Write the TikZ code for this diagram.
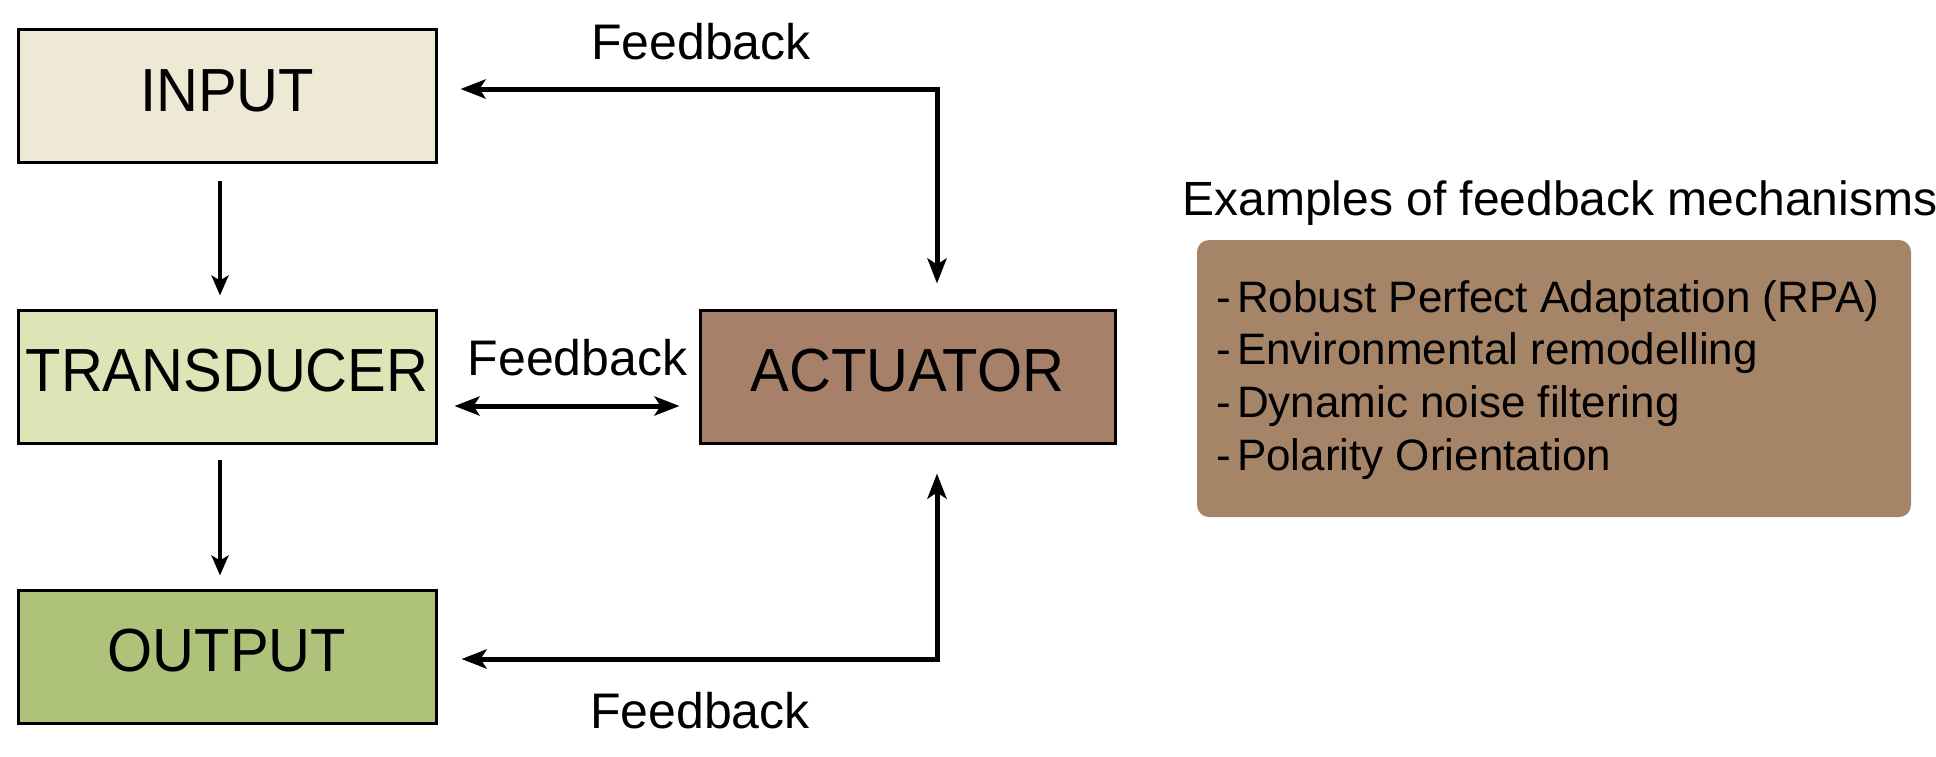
\documentclass[tikz,border=0pt]{standalone}
\usepackage{fontspec}
\setmainfont{Liberation Sans}
\usetikzlibrary{arrows.meta}
\definecolor{inputc}{HTML}{EEE9D5}
\definecolor{transc}{HTML}{DEE4B6}
\definecolor{outc}{HTML}{AEC27A}
\definecolor{actc}{HTML}{A7806A}
\definecolor{exc}{HTML}{A68468}
\tikzset{
  blockbox/.style={draw=black, line width=1.5pt, inner sep=0pt, minimum width=209pt, minimum height=66.5pt,
    font=\fontsize{29}{29}\selectfont, text height=21pt, text depth=6pt},
  thickarr/.style={line width=2.5pt, {Stealth[length=12.5pt,width=9.5pt,inset=3pt]}-{Stealth[length=12.5pt,width=9.5pt,inset=3pt]}},
  thinarr/.style={line width=1.8pt, -{Stealth[length=10pt,width=8.5pt,inset=2.5pt]}},
  fblabel/.style={font=\fontsize{25}{25}\selectfont, inner sep=0pt, anchor=base},
  listitem/.style={font=\fontsize{22}{22}\selectfont, inner sep=0pt, anchor=base west},
}
\begin{document}
\begin{tikzpicture}[x=0.5pt,y=-0.5pt]
\useasboundingbox (0,0) rectangle (1936,756);
\node[blockbox, fill=inputc] (in) at (227,96) {\scalebox{1}[1.05]{INPUT}};
\node[blockbox, fill=transc] (tr) at (227,376.5) {\scalebox{1}[1.05]{TRANSDUCER}};
\node[blockbox, fill=outc] (out) at (227,656.5) {\scalebox{1}[1.05]{OUTPUT}};
\node[blockbox, fill=actc, minimum width=207.5pt] (act) at (907.5,376.5) {\scalebox{1}[1.05]{ACTUATOR}};

\draw[thinarr, shorten <=8.5pt, shorten >=6.5pt] ([xshift=-3.5pt]in.south) -- ([xshift=-3.5pt]tr.north);
\draw[thinarr, shorten <=7.5pt, shorten >=6.5pt] ([xshift=-3.5pt]tr.south) -- ([xshift=-3.5pt]out.north);
\draw[thickarr, shorten <=8.5pt, shorten >=9.5pt] ([yshift=-14.75pt]tr.east) -- ([yshift=-14.75pt]act.west);
\draw[thickarr, shorten <=12.5pt, shorten >=11.5pt] ([xshift=14.75pt]act.north) |- ([yshift=3.5pt]in.east);
\draw[thickarr, shorten <=14.5pt, shorten >=12pt] ([xshift=14.75pt]act.south) |- ([yshift=-1.25pt]out.east);

\node[fblabel] (fb1) at (701,59) {Feedback};
\node[fblabel] (fb2) at (577.5,375) {Feedback};
\node[fblabel] (fb3) at (700,728) {Feedback};

\node[font=\fontsize{24}{24}\selectfont, inner sep=0pt, anchor=base west] (title) at (1182,215) {Examples of feedback mechanisms};
\node[draw=none, fill=exc, rounded corners=6pt, inner sep=0pt, minimum width=357pt, minimum height=138.5pt] (ex) at (1554,378.5) {};
\node[listitem] (l1) at (1216,312) {-\kern3pt Robust Perfect Adaptation (RPA)};
\node[listitem] (l2) at (1216,364) {-\kern3pt Environmental remodelling};
\node[listitem] (l3) at (1216,417) {-\kern3pt Dynamic noise filtering};
\node[listitem] (l4) at (1216,470) {-\kern3pt Polarity Orientation};
\end{tikzpicture}
\end{document}
